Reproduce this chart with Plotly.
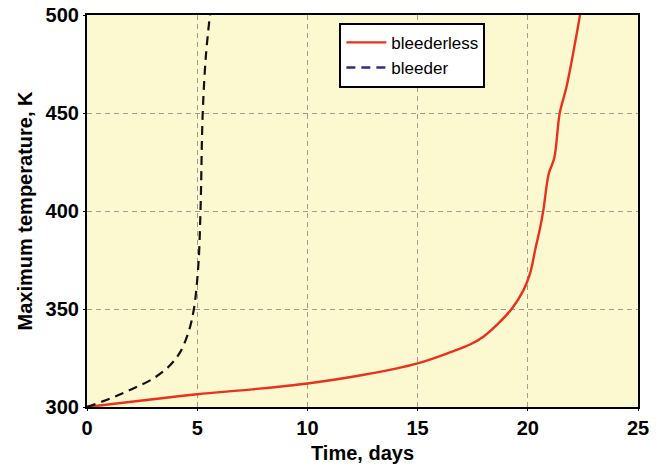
import plotly.graph_objects as go

# Bleederless (red, solid)
t_bleederless = [0, 2.5, 5, 7.5, 10, 12.5, 15, 16.5, 17.4, 18, 18.7, 19.3, 19.8, 20.1,
                 20.35, 20.55, 20.7, 20.95, 21.2, 21.45, 21.75, 22.05, 22.37]
T_bleederless = [300, 303.3, 306.5, 309, 312, 316.3, 322.3, 328, 332, 336, 343, 350.5,
                 359.5, 368, 381, 391, 400, 419, 427, 450, 463, 480, 500]

# Bleeder (dashed)
t_bleeder = [0, 1.2, 2.1, 3.0, 3.7, 4.2, 4.6, 4.85, 5.05, 5.15, 5.25, 5.4, 5.58]
T_bleeder = [300, 305, 309.5, 314.5, 320.5, 327.5, 338, 350, 372, 400, 450, 480, 500]

x_ticks = [0, 5, 10, 15, 20, 25]
y_ticks = [300, 350, 400, 450, 500]

FONT = "Liberation Sans"

fig = go.Figure()
fig.add_trace(go.Scatter(x=t_bleederless, y=T_bleederless, mode="lines", name="bleederless",
                         line=dict(color="#E8321E", width=2.4), line_shape="spline"))
fig.add_trace(go.Scatter(x=t_bleeder, y=T_bleeder, mode="lines", name="bleeder",
                         line=dict(color="#111111", width=2.2, dash="9px,6px"),
                         line_shape="spline", showlegend=False))
fig.add_trace(go.Scatter(x=[None], y=[None], mode="lines", name="bleeder",
                         line=dict(color="#2E2E80", width=2.4, dash="9px,6px")))

fig.update_layout(
    width=661, height=468,
    margin=dict(l=87, r=23, t=15, b=61),
    paper_bgcolor="white",
    plot_bgcolor="#FCF8D0",
    font=dict(family=FONT, color="black"),
    legend=dict(x=0.458, y=0.98, xanchor="left", yanchor="top",
                bgcolor="white", bordercolor="black", borderwidth=2,
                font=dict(family=FONT, size=17, color="black"),
                tracegroupgap=0, itemwidth=40),
)
fig.update_xaxes(
    range=[0, 25], tickvals=x_ticks, ticktext=[str(v) for v in x_ticks],
    showgrid=True, gridcolor="#A39C8C", griddash="5px,4px", gridwidth=1.2,
    showline=True, linecolor="black", linewidth=2.2, mirror=True,
    ticks="outside", ticklen=2, tickcolor="black",
    tickfont=dict(family=FONT, size=20, color="black", weight="bold"),
    title=dict(text="Time, days", font=dict(family=FONT, size=20, color="black", weight="bold"),
               standoff=8),
    zeroline=False, automargin=False,
)
fig.update_yaxes(
    range=[300, 500], tickvals=y_ticks, ticktext=[str(v) for v in y_ticks],
    showgrid=True, gridcolor="#A39C8C", griddash="5px,4px", gridwidth=1.2,
    showline=True, linecolor="black", linewidth=2.2, mirror=True,
    ticks="outside", ticklen=2, tickcolor="black",
    tickfont=dict(family=FONT, size=20, color="black", weight="bold"),
    title=dict(text="Maximum temperature, K", font=dict(family=FONT, size=20, color="black", weight="bold"),
               standoff=8),
    zeroline=False, automargin=False,
)

fig.write_html("out.html")
